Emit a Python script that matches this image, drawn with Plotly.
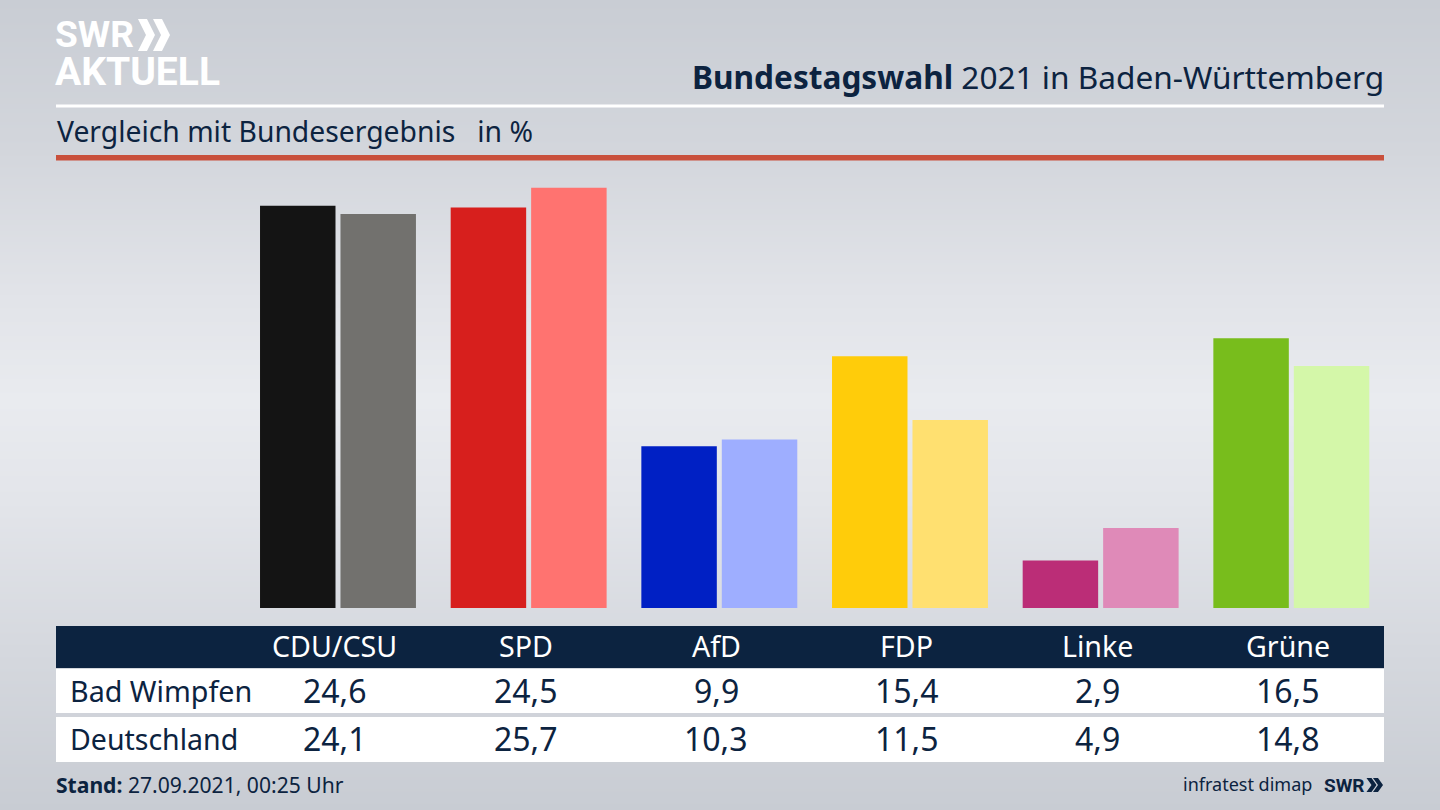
import plotly.graph_objects as go

parties = ["CDU/CSU", "SPD", "AfD", "FDP", "Linke", "Grüne"]
bad_wimpfen = [24.6, 24.5, 9.9, 15.4, 2.9, 16.5]
deutschland = [24.1, 25.7, 10.3, 11.5, 4.9, 14.8]
colors_local = ["#141414", "#d71f1d", "#0020c4", "#ffcc0a", "#bb2d77", "#78bd1c"]
colors_national = ["#72716e", "#ff7370", "#9eaeff", "#ffe070", "#df8ab8", "#d4f7a9"]
row_names = ["Bad Wimpfen", "Deutschland"]

W, H = 1440, 810
NAVY = "#0c2340"
FONT = "Noto Sans"
LOGO = "Roboto"


def px(x):
    return x / W


def py(y):
    return 1 - y / H


def fmt(v):
    return f"{v:.1f}".replace(".", ",")


fig = go.Figure()

# background gradient
bg_y = [0, 150, 300, 400, 500, 650, 810]
bg_colors = ["#c9cdd4", "#d3d6dc", "#e2e4e9", "#e9ebef", "#e3e5ea", "#d5d8de", "#c8ccd3"]
fig.add_trace(go.Heatmap(
    x=[0, W], y=bg_y, z=[[v, v] for v in bg_y], zsmooth="best", showscale=False,
    hoverinfo="skip", zmin=0, zmax=H,
    colorscale=[[v / H, c] for v, c in zip(bg_y, bg_colors)],
    xaxis="x", yaxis="y",
))

fig.add_trace(go.Bar(x=parties, y=bad_wimpfen, marker=dict(color=colors_local, line_width=0),
                     name=row_names[0], xaxis="x2", yaxis="y2", showlegend=False))
fig.add_trace(go.Bar(x=parties, y=deutschland, marker=dict(color=colors_national, line_width=0),
                     name=row_names[1], xaxis="x2", yaxis="y2", showlegend=False))


def rect(x0, y0, x1, y1, color):
    return dict(type="rect", xref="paper", yref="paper", x0=px(x0), x1=px(x1),
                y0=py(y1), y1=py(y0), fillcolor=color, line_width=0, layer="above")


def chevron(x, top, bottom, w, t, color):
    mid = (top + bottom) / 2
    pts = [(x, top), (x + t, top), (x + t + w, mid), (x + t, bottom), (x, bottom), (x + w, mid)]
    path = "M " + " L ".join(f"{px(a):.5f},{py(b):.5f}" for a, b in pts) + " Z"
    return dict(type="path", xref="paper", yref="paper", path=path, fillcolor=color,
                line_width=0, layer="above")


shapes = [
    rect(56, 104.5, 1384, 107.5, "#ffffff"),
    rect(56, 155, 1384, 160.5, "#c9503c"),
    rect(56, 626, 1384, 668, NAVY),
    rect(56, 669, 1384, 713, "#ffffff"),
    rect(56, 717, 1384, 762, "#ffffff"),
    chevron(138, 19, 51, 8, 9, "#ffffff"),
    chevron(153, 19, 51, 8, 9, "#ffffff"),
    chevron(1366.5, 778, 792, 5, 5, NAVY),
    chevron(1373, 778, 792, 5, 5, NAVY),
]


def text(x, y, s, size, color=NAVY, anchor="left", family=FONT, xref="paper", xshift=0):
    return dict(x=px(x) if xref == "paper" else x, y=py(y), xref=xref, yref="paper", text=s,
                showarrow=False, xanchor=anchor, yanchor="middle", xshift=xshift,
                font=dict(family=family, size=size, color=color), borderpad=0, borderwidth=0)


ann = [
    text(55, 35, "<b>SWR</b>", 37, "#ffffff", family=LOGO),
    text(55, 72, "<b>AKTUELL</b>", 39, "#ffffff", family=LOGO),
    text(1384, 76.5, "<b>Bundestagswahl</b> 2021 in Baden-Württemberg", 31.6, anchor="right"),
    text(57, 131, "Vergleich mit Bundesergebnis   in %", 28.3),
    text(56, 784, "<b>Stand:</b> 27.09.2021, 00:25 Uhr", 21.1),
    text(1312, 784, "infratest dimap", 18, anchor="right"),
    text(1365, 785, "<b>SWR</b>", 19, anchor="right", family=LOGO),
    text(69.5, 690, row_names[0], 28.7),
    text(69.5, 738.5, row_names[1], 28.5),
]
for i, p in enumerate(parties):
    ann.append(text(p, 645.5, p, 28.6, "#ffffff", "center", xref="x2", xshift=-3))
    ann.append(text(p, 690, fmt(bad_wimpfen[i]), 32, NAVY, "center", xref="x2", xshift=-3))
    ann.append(text(p, 738.5, fmt(deutschland[i]), 32, NAVY, "center", xref="x2", xshift=-3))

PX_PER_UNIT = 16.35
fig.update_layout(
    width=W, height=H, margin=dict(l=0, r=0, t=0, b=0, pad=0),
    paper_bgcolor="#d8dbe0", plot_bgcolor="rgba(0,0,0,0)",
    barmode="group", bargap=0.156, bargroupgap=0.062,
    xaxis=dict(domain=[0, 1], range=[0, W], visible=False, fixedrange=True),
    yaxis=dict(domain=[0, 1], range=[H, 0], visible=False, fixedrange=True),
    xaxis2=dict(domain=[px(242.65), px(1386.65)], type="category", categoryorder="array",
                categoryarray=parties, visible=False, anchor="y2", fixedrange=True),
    yaxis2=dict(domain=[py(608), py(170)], range=[0, 438 / PX_PER_UNIT], visible=False,
                anchor="x2", fixedrange=True),
    shapes=shapes, annotations=ann,
)
fig.write_html("out.html", config=dict(displayModeBar=False),
               post_script="document.body.style.margin='0';document.documentElement.style.overflow='hidden';")
